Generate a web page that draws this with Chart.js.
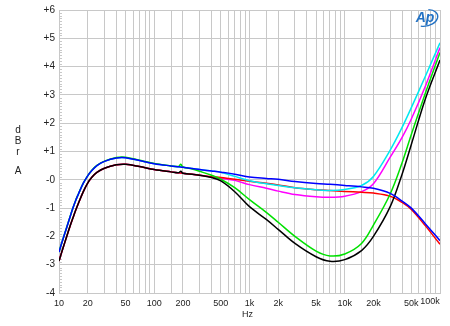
<!DOCTYPE html>
<html><head><meta charset="utf-8">
<script src="https://cdn.jsdelivr.net/npm/chart.js@4"></script>
<style>html,body{margin:0;padding:0;background:#fff;overflow:hidden}</style>
</head><body>
<canvas id="c" width="450" height="326"></canvas>
<script>
// ---- data ----
const freqs = [10,11,12,13,14,15,16,18,20,22,25,30,40,50,70,100,150,180,190,200,250,300,400,500,700,1000,1500,2000,3000,5000,7000,10000,15000,20000,30000,40000,50000,70000,100000];
const blueDb    = [-2.55,-2.1,-1.7,-1.33,-1.0,-0.72,-0.5,-0.12,0.14,0.32,0.5,0.65,0.77,0.78,0.68,0.57,0.49,0.46,0.45,0.44,0.4,0.36,0.31,0.27,0.2,0.1,0.05,0.02,-0.06,-0.13,-0.16,-0.2,-0.25,-0.3,-0.48,-0.75,-1.0,-1.55,-2.15];
const greenDb   = [-2.55,-2.1,-1.7,-1.33,-1.0,-0.72,-0.5,-0.12,0.14,0.33,0.51,0.66,0.79,0.8,0.69,0.58,0.49,0.47,0.55,0.45,0.38,0.3,0.16,0.02,-0.28,-0.7,-1.15,-1.5,-2.0,-2.52,-2.69,-2.62,-2.25,-1.6,-0.5,0.6,1.6,3.05,4.5];
const cyanDb    = [-2.55,-2.1,-1.7,-1.33,-1.0,-0.72,-0.5,-0.12,0.14,0.32,0.5,0.65,0.77,0.78,0.68,0.57,0.49,0.46,0.45,0.44,0.4,0.36,0.31,0.27,0.12,-0.03,-0.14,-0.2,-0.28,-0.35,-0.38,-0.34,-0.2,0.12,1.05,1.85,2.55,3.65,4.84];
const blackDb   = [-2.87,-2.42,-2.02,-1.66,-1.35,-1.07,-0.83,-0.42,-0.12,0.08,0.26,0.41,0.53,0.55,0.47,0.36,0.28,0.25,0.3,0.23,0.2,0.16,0.08,-0.04,-0.42,-0.95,-1.4,-1.75,-2.25,-2.72,-2.88,-2.82,-2.5,-2.0,-0.95,0.2,1.25,2.85,4.23];
const redDb     = [-2.87,-2.42,-2.02,-1.66,-1.35,-1.07,-0.83,-0.42,-0.12,0.08,0.26,0.41,0.53,0.55,0.47,0.36,0.28,0.25,0.24,0.23,0.2,0.16,0.11,0.08,0.02,-0.05,-0.12,-0.18,-0.28,-0.35,-0.38,-0.41,-0.44,-0.47,-0.58,-0.8,-1.05,-1.62,-2.28];
const magentaDb = [-2.87,-2.42,-2.02,-1.66,-1.35,-1.07,-0.83,-0.42,-0.12,0.08,0.26,0.41,0.53,0.55,0.47,0.36,0.28,0.25,0.24,0.23,0.2,0.16,0.1,0.05,-0.02,-0.17,-0.3,-0.4,-0.52,-0.6,-0.62,-0.58,-0.42,-0.14,0.8,1.5,2.15,3.3,4.67];
const xTickLabels = {10:'10',20:'20',50:'50',100:'100',200:'200',500:'500',1000:'1k',2000:'2k',5000:'5k',10000:'10k',20000:'20k',50000:'50k',100000:'100k'};
const Y_MIN = -4, Y_MAX = 6;

const FONT = '"Liberation Sans", Arial, sans-serif';
function pts(arr){ return freqs.map((f,i)=>({x:f, y:arr[i]})); }
function ds(data,color){ return {data:pts(data), borderColor:color, borderWidth:1.5, pointRadius:0, fill:false, tension:0.35}; }

const extras = {
  id:'extras',
  beforeDatasetsDraw(chart){
    const ctx = chart.ctx, ys = chart.scales.y, left = chart.chartArea.left;
    ctx.save();
    ctx.strokeStyle = '#c8c8c8'; ctx.lineWidth = 1;
    for (let i = Y_MIN*10; i <= Y_MAX*10; i++) {
      if (i % 10 === 0) continue;
      const py = Math.round(ys.getPixelForValue(i/10)) + 0.5;
      ctx.beginPath(); ctx.moveTo(left, py); ctx.lineTo(left+3, py); ctx.stroke();
    }
    ctx.restore();
  },
  afterDraw(chart){
    const ctx = chart.ctx, xs = chart.scales.x, ca = chart.chartArea;
    ctx.save();
    ctx.fillStyle = '#222';
    ctx.font = '9px ' + FONT;
    ctx.textAlign = 'center'; ctx.textBaseline = 'middle';
    // last x label kept inside the frame
    ctx.fillText('100k', xs.getPixelForValue(100000) - 10, 302);
    // axis titles
    ctx.fillText('Hz', (ca.left+ca.right)/2 - 2, 315);
    ctx.font = '10px ' + FONT;
    ctx.fillText('d', 18, 130);
    ctx.fillText('B', 18, 141);
    ctx.fillText('r', 18, 152);
    ctx.fillText('A', 18, 171);
    // AP logo
    ctx.fillStyle = '#2372c4';
    ctx.strokeStyle = '#2372c4';
    ctx.font = 'italic bold 14px ' + FONT;
    ctx.fillText('Ap', 425, 18);
    ctx.lineWidth = 1.3;
    ctx.beginPath(); ctx.ellipse(426, 18, 12, 8, -0.25, -1.2, 2.2); ctx.stroke();
    ctx.restore();
  }
};

new Chart(document.getElementById('c'), {
  type:'line',
  data:{ datasets:[
    ds(blueDb,'#0000ff'),
    ds(blackDb,'#000000'),
    ds(greenDb,'#00e000'),
    ds(cyanDb,'#00e8f0'),
    ds(redDb,'#ff0000'),
    ds(magentaDb,'#ff00ff')
  ]},
  options:{
    responsive:false, animation:false, devicePixelRatio:1,
    layout:{ padding:{ left:0, right:10, top:9, bottom:0 } },
    plugins:{ legend:{display:false}, tooltip:{enabled:false} },
    scales:{
      x:{ type:'logarithmic', min:10, max:100000,
          grid:{ color:'#c8c8c8', drawTicks:false, lineWidth:1 },
          border:{ color:'#c8c8c8' },
          ticks:{ autoSkip:false, maxRotation:0, padding:5, color:'#222', font:{size:9, family:FONT},
                  callback:(v)=> (v===100000 ? '' : (xTickLabels[v] || '')) },
          afterFit:(s)=>{ s.height = 33; }
      },
      y:{ min:Y_MIN, max:Y_MAX,
          grid:{ color:'#c8c8c8', drawTicks:false, lineWidth:1 },
          border:{ color:'#c8c8c8' },
          ticks:{ stepSize:1, padding:4, color:'#222', font:{size:10, family:FONT},
                  callback:(v)=> v>0 ? '+'+v : (v===0 ? '-0' : String(v)) },
          afterFit:(s)=>{ s.width = 59; }
      }
    }
  },
  plugins:[extras]
});
</script>
</body></html>
